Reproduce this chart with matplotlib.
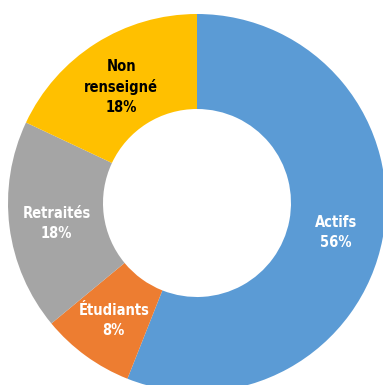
import matplotlib.pyplot as plt
import numpy as np

# share of respondents by status
categories = ['Actifs', 'Étudiants', 'Retraités', 'Non\nrenseigné']
shares = [56, 8, 18, 18]
colors = ['#5B9BD5', '#ED7D31', '#A5A5A5', '#FFC000']
text_colors = ['white', 'white', 'white', 'black']

W, H = 383, 385
fig = plt.figure(figsize=(W / 100, H / 100), dpi=100)
ax = fig.add_axes([0, 0, 1, 1])

cx, cy = 197, H - 203
r_out = 189
ring = 95

wedges, _ = ax.pie(shares, colors=colors, startangle=90, counterclock=False,
                   center=(cx, cy), radius=r_out, frame=True,
                   wedgeprops=dict(width=ring, linewidth=0))
ax.set_xlim(0, W)
ax.set_ylim(0, H)
ax.set_aspect('equal')
ax.axis('off')

# labels centred in the middle of each ring segment
r_lab = r_out - ring / 2
for w, name, val, tc in zip(wedges, categories, shares, text_colors):
    ang = np.deg2rad((w.theta1 + w.theta2) / 2)
    x = cx + r_lab * np.cos(ang)
    y = cy + r_lab * np.sin(ang)
    ax.text(x, y - 3, f'{name}\n{val}%', ha='center', va='center',
            color=tc, fontsize=10.5, fontweight='bold',
            family='DejaVu Sans', fontstretch='condensed',
            linespacing=1.4)

fig.savefig('out.png', dpi=100)
